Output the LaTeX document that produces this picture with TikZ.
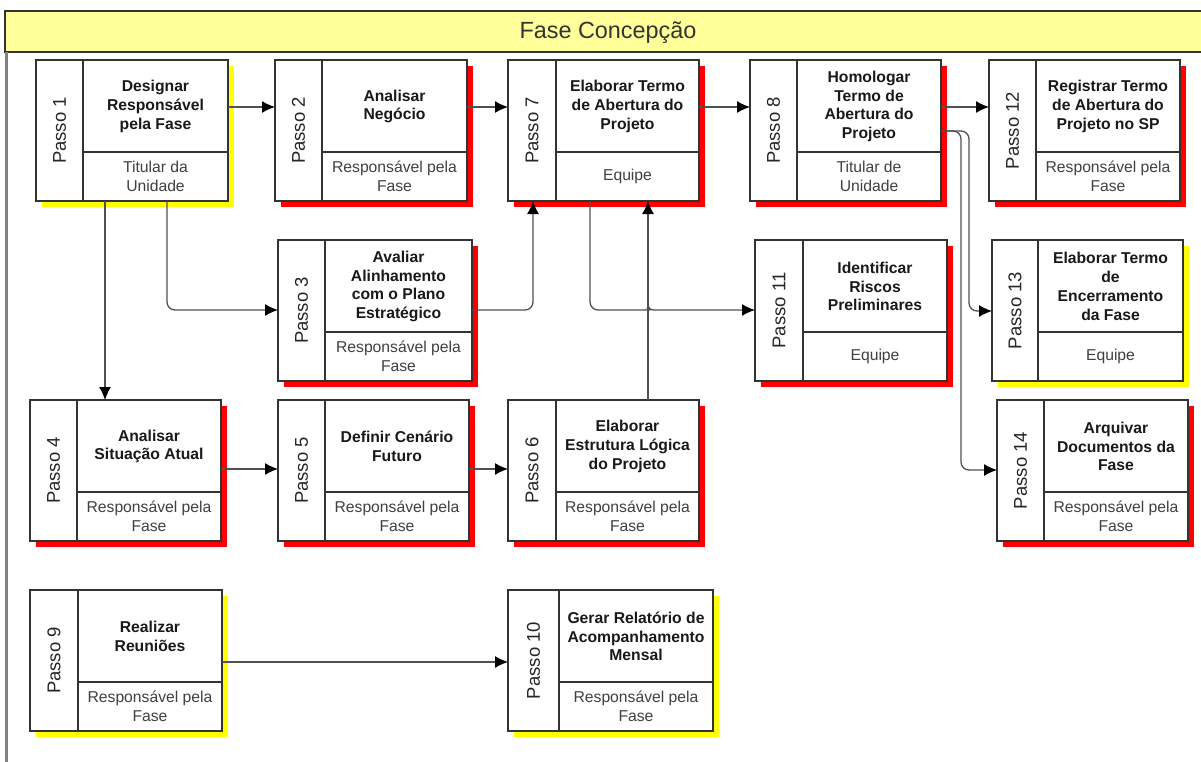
\documentclass[tikz,border=0pt]{standalone}
\usepackage{fontspec}
\setmainfont{Liberation Sans}
\usetikzlibrary{arrows.meta,calc}
\definecolor{headfill}{HTML}{FFFF99}
\definecolor{shred}{HTML}{FF0000}
\definecolor{shyellow}{HTML}{FFFF00}
\definecolor{frameline}{HTML}{333333}
\definecolor{connline}{HTML}{505050}

% #1 name, #2 x, #3 y, #4 width, #5 step number, #6 title, #7 owner, #8 shadow colour, #9 label column width
\newcommand{\passobox}[9]{%
  \begin{scope}[shift={(#2,#3)}]
    \fill[#8] (6,6) rectangle (#4+6,147);
    \node[boxframe, minimum width=#4pt, minimum height=141pt, anchor=north west] (#1) at (0,0) {};
    \draw[boxline] (#9,0) -- (#9,141) (#9,92) -- (#4,92);
    \node[passolabel] (#1-num) at (#9/2,70.5) {Passo #5};
    \node[steptitle] (#1-title) at ({(#9+#4)/2},46.5) {#6};
    \node[stepowner] (#1-owner) at ({(#9+#4)/2},116.5) {#7};
  \end{scope}}

\begin{document}
\begin{tikzpicture}[x=1pt,y=-1pt,
  boxframe/.style={draw=frameline, line width=1.4pt, fill=white, inner sep=0pt, outer sep=0pt, rectangle},
  boxline/.style={draw=frameline, line width=1.4pt},
  passolabel/.style={rotate=90, inner sep=0pt, text=black!85, font=\fontsize{18.5}{22}\selectfont},
  steptitle/.style={align=center, inner sep=0pt, text=black!90, font=\fontsize{15.7}{18.8}\selectfont\bfseries},
  stepowner/.style={align=center, inner sep=0pt, text=black!75, font=\fontsize{15.7}{18.6}\selectfont},
  conn/.style={draw=connline, line width=1.3pt, -{Latex[length=13pt,width=12pt,black]}},
  headbox/.style={draw=frameline, line width=1.5pt, fill=headfill},
]
\useasboundingbox (0,0) rectangle (1201,762);

% phase header and frame
\draw[headbox] (5,11) rectangle (1215,52);
\node[font=\fontsize{23.4}{28}\selectfont, text=black!80] (phase) at (608,32.5) {Fase Concepção};
\draw[draw=black!50, line width=2.5pt] (6.5,52) -- (6.5,762);

% steps
\passobox{p1}{36}{60}{192}{1}{Designar\\Responsável\\pela Fase}{Titular da\\Unidade}{shyellow}{47}
\passobox{p2}{275}{60}{192}{2}{Analisar\\Negócio}{Responsável pela\\Fase}{shred}{47}
\passobox{p7}{508}{60}{191}{7}{Elaborar Termo\\de Abertura do\\Projeto}{Equipe}{shred}{48}
\passobox{p8}{750}{60}{191}{8}{Homologar\\Termo de\\Abertura do\\Projeto}{Titular de\\Unidade}{shred}{47}
\passobox{p12}{989}{60}{191}{12}{Registrar Termo\\de Abertura do\\Projeto no SP}{Responsável pela\\Fase}{shred}{47}
\passobox{p3}{278}{240}{194}{3}{Avaliar\\Alinhamento\\com o Plano\\Estratégico}{Responsável pela\\Fase}{shred}{47}
\passobox{p11}{755}{240}{192}{11}{Identificar\\Riscos\\Preliminares}{Equipe}{shred}{48}
\passobox{p13}{992}{240}{191}{13}{Elaborar Termo\\de\\Encerramento\\da Fase}{Equipe}{shyellow}{46}
\passobox{p4}{30}{400}{191}{4}{Analisar\\Situação Atual}{Responsável pela\\Fase}{shred}{47}
\passobox{p5}{278}{400}{191}{5}{Definir Cenário\\Futuro}{Responsável pela\\Fase}{shred}{47}
\passobox{p6}{508}{400}{191}{6}{Elaborar\\Estrutura Lógica\\do Projeto}{Responsável pela\\Fase}{shred}{48}
\passobox{p14}{997}{400}{191}{14}{Arquivar\\Documentos da\\Fase}{Responsável pela\\Fase}{shred}{47}
\passobox{p9}{30}{590}{192}{9}{Realizar\\Reuniões}{Responsável pela\\Fase}{shyellow}{48}
\passobox{p10}{508}{590}{205}{10}{Gerar Relatório de\\Acompanhamento\\Mensal}{Responsável pela\\Fase}{shyellow}{51}

% flow between steps
\draw[conn] (p1.east |- 0,107) -- (p2.west |- 0,107);
\draw[conn] (p2.east |- 0,107) -- (p7.west |- 0,107);
\draw[conn] (p7.east |- 0,107) -- (p8.west |- 0,107);
\draw[conn] (p8.east |- 0,107) -- (p12.west |- 0,107);
\draw[conn, rounded corners=8pt] (p8.east |- 0,131) -| (969,250) |- (p13.west |- 0,311);
\draw[conn, rounded corners=8pt] (p8.east |- 0,131) -| (961,300) |- (p14.west |- 0,470);
\draw[conn] (p1.south -| 105,0) -- (p4.north -| 105,0);
\draw[conn, rounded corners=8pt] (p1.south -| 167,0) |- (p3.west |- 0,310);
\draw[conn, rounded corners=8pt] (p3.east |- 0,310) -| (p7.south -| 533,0);
\draw[conn] (p6.north -| 648,0) -- (p7.south -| 648,0);
\draw[conn] (p7.south -| 590,0) [rounded corners=8pt] -- (590,310) -- (642,310) [sharp corners]
  .. controls (645.5,310) and (648,308) .. (648,304.5)
  .. controls (648,308) and (650.5,310) .. (654,310) -- (p11.west |- 0,310);
\draw[conn] (p4.east |- 0,469) -- (p5.west |- 0,469);
\draw[conn] (p5.east |- 0,469) -- (p6.west |- 0,469);
\draw[conn] (p9.east |- 0,662) -- (p10.west |- 0,662);
\end{tikzpicture}
\end{document}
